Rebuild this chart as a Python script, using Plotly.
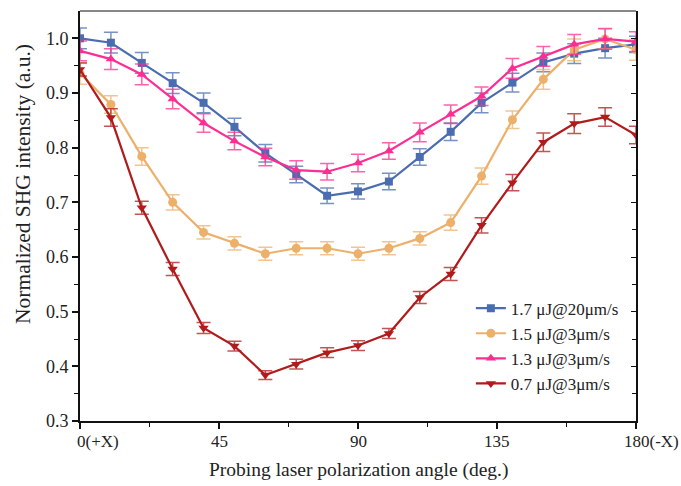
import plotly.graph_objects as go

angles = [0, 10, 20, 30, 40, 50, 60, 70, 80, 90, 100, 110, 120, 130, 140, 150, 160, 170, 180]

names = ["1.7 μJ@20μm/s", "1.5 μJ@3μm/s", "1.3 μJ@3μm/s", "0.7 μJ@3μm/s"]

blue_y = [1.000, 0.992, 0.955, 0.918, 0.882, 0.838, 0.790, 0.751, 0.712, 0.720,
          0.738, 0.783, 0.829, 0.882, 0.919, 0.956, 0.972, 0.982, 0.989]
blue_err = [0.019, 0.019, 0.019, 0.019, 0.018, 0.016, 0.016, 0.015, 0.014, 0.014,
            0.015, 0.015, 0.016, 0.018, 0.017, 0.017, 0.018, 0.018, 0.015]

orange_y = [0.936, 0.879, 0.784, 0.700, 0.645, 0.625, 0.606, 0.616, 0.616, 0.606,
            0.616, 0.634, 0.663, 0.748, 0.851, 0.925, 0.979, 0.999, 0.979]
orange_err = [0.02, 0.016, 0.016, 0.014, 0.012, 0.012, 0.012, 0.012, 0.012, 0.012,
              0.012, 0.012, 0.014, 0.015, 0.016, 0.018, 0.02, 0.018, 0.019]

pink_y = [0.977, 0.962, 0.934, 0.889, 0.845, 0.812, 0.783, 0.759, 0.756, 0.772,
          0.794, 0.828, 0.861, 0.894, 0.945, 0.967, 0.989, 0.999, 0.994]
pink_err = [0.018, 0.019, 0.019, 0.018, 0.017, 0.016, 0.016, 0.017, 0.015, 0.016,
            0.015, 0.017, 0.017, 0.017, 0.018, 0.018, 0.018, 0.019, 0.018]

red_y = [0.943, 0.855, 0.690, 0.578, 0.470, 0.437, 0.384, 0.404, 0.425, 0.438,
         0.460, 0.526, 0.569, 0.658, 0.736, 0.810, 0.844, 0.856, 0.823]
red_err = [0.012, 0.016, 0.012, 0.012, 0.010, 0.009, 0.008, 0.009, 0.009, 0.009,
           0.009, 0.011, 0.012, 0.014, 0.015, 0.017, 0.018, 0.017, 0.016]

x_tickvals = [0, 45, 90, 135, 180]
x_ticktext = ["0(+X)", "45", "90", "135", "180(-X)"]
y_tickvals = [0.3, 0.4, 0.5, 0.6, 0.7, 0.8, 0.9, 1.0]
y_ticktext = ["0.3", "0.4", "0.5", "0.6", "0.7", "0.8", "0.9", "1.0"]

x_title = "Probing laser polarization angle (deg.)"
y_title = "Normalized SHG intensity (a.u.)"

series = [
    (names[0], blue_y, blue_err, "#4a6db0", "rgba(74,109,176,0.75)", "square", 8),
    (names[1], orange_y, orange_err, "#edb06b", "rgba(237,176,107,0.75)", "circle", 9),
    (names[2], pink_y, pink_err, "#fe2d92", "rgba(254,45,146,0.75)", "triangle-up", 9),
    (names[3], red_y, red_err, "#b01b1b", "rgba(176,27,27,0.75)", "triangle-down", 9),
]

fig = go.Figure()
for name, y, err, col, ecol, sym, sz in series:
    fig.add_trace(go.Scatter(
        x=angles, y=y, name=name, mode="lines+markers",
        line=dict(color=col, width=2.2),
        marker=dict(color=col, symbol=sym, size=sz),
        error_y=dict(type="data", array=err, visible=True, color=ecol,
                     thickness=1.5, width=7),
    ))

font_family = "Liberation Serif, Times New Roman, serif"
txt_col = "#222"
minor_y = [0.35, 0.45, 0.55, 0.65, 0.75, 0.85, 0.95]
tick_fs = 17

# x tick labels as annotations: the number sits centred on the tick, suffix hangs to the right
annotations = []
for v, t in zip(x_tickvals, x_ticktext):
    num = t.split("(")[0]
    if "(" in t:
        anchor, shift = "left", -len(num) * tick_fs * 0.25
    else:
        anchor, shift = "center", 0
    annotations.append(dict(text=t, x=v, xref="x", y=0, yref="paper",
                            xanchor=anchor, yanchor="top", xshift=shift, yshift=-10,
                            showarrow=False, borderpad=0,
                            font=dict(size=tick_fs, family=font_family, color=txt_col)))
annotations.append(dict(text=x_title, xref="paper", yref="paper", x=0.5, y=-0.1195,
                        xanchor="center", yanchor="middle", showarrow=False,
                        font=dict(size=19.5, family=font_family, color=txt_col)))
annotations.append(dict(text=y_title, textangle=-90, xref="paper", yref="paper",
                        x=-0.1025, y=0.578, xanchor="center", yanchor="middle",
                        showarrow=False, font=dict(size=21.5, family=font_family, color=txt_col)))

fig.update_layout(
    width=681, height=486,
    margin=dict(l=80, r=45, t=11, b=65, autoexpand=False),
    plot_bgcolor="white", paper_bgcolor="white",
    font=dict(family=font_family, size=17, color=txt_col),
    showlegend=True,
    legend=dict(x=0.703, y=0.318, xanchor="left", yanchor="top",
                bgcolor="rgba(0,0,0,0)", font=dict(size=17, family=font_family, color=txt_col),
                tracegroupgap=0),
    xaxis=dict(range=[0, 180], tickvals=x_tickvals, showticklabels=False, automargin=False,
               showgrid=False, zeroline=False,
               showline=True, linecolor="#111", linewidth=2,
               ticks="outside", ticklen=6, tickwidth=1.5, tickcolor="#111",
               minor=dict(tickvals=[22.5, 67.5, 112.5, 157.5], ticks="outside", ticklen=4, tickwidth=1.2, tickcolor="#111")),
    yaxis=dict(range=[0.3, 1.05], tickvals=y_tickvals, ticktext=y_ticktext, automargin=False,
               showgrid=False, zeroline=False,
               showline=True, linecolor="#111", linewidth=2,
               ticks="outside", ticklen=6, tickwidth=1.5, tickcolor="#111",
               minor=dict(tickvals=minor_y, ticks="outside", ticklen=4, tickwidth=1.2, tickcolor="#111"),
               tickfont=dict(size=18)),
    yaxis2=dict(range=[0.3, 1.05], overlaying="y", side="right", anchor="x", automargin=False,
                showgrid=False, zeroline=False, showticklabels=False,
                showline=True, linecolor="#111", linewidth=2,
                tickvals=y_tickvals, ticks="inside", ticklen=5, tickwidth=1.2, tickcolor="#111",
                minor=dict(tickvals=minor_y, ticks="inside", ticklen=4, tickwidth=1.2, tickcolor="#111")),
    shapes=[dict(type="line", xref="paper", yref="paper", x0=0, x1=1, y0=1, y1=1,
                 line=dict(color="#111", width=1))],
    annotations=annotations,
)

# invisible trace to activate right axis
fig.add_trace(go.Scatter(x=[None], y=[None], yaxis="y2", showlegend=False, hoverinfo="skip"))

fig.write_html("out.html", config={"displayModeBar": False},
               post_script="document.body.style.margin='0';document.body.style.padding='0';")
